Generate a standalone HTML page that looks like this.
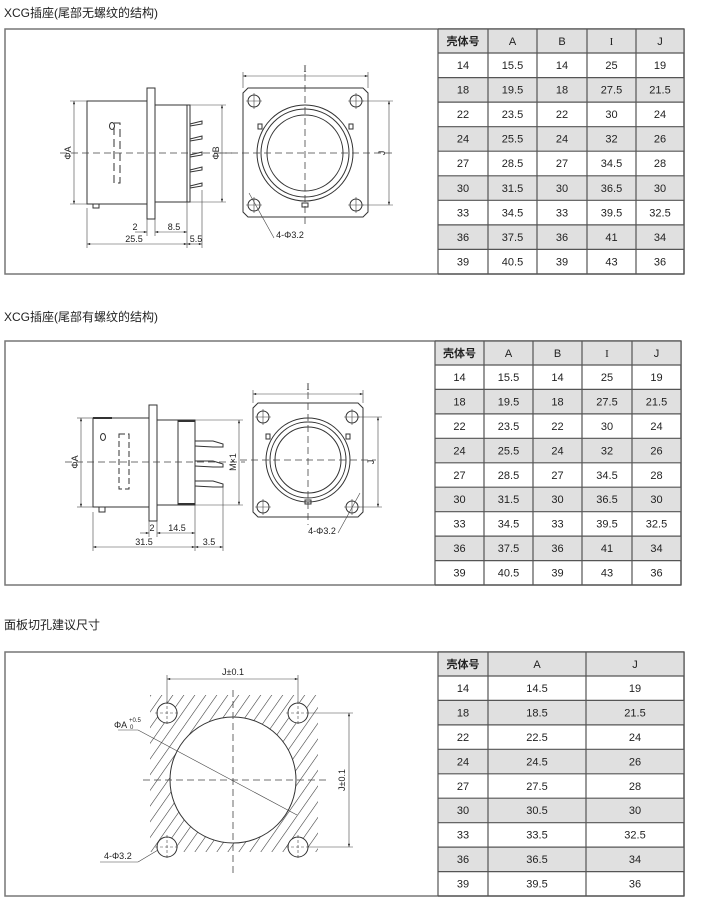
<!DOCTYPE html>
<html><head><meta charset="utf-8"><style>
html,body{margin:0;padding:0;background:#fff;}
svg{display:block;font-family:"Liberation Sans","Noto Sans CJK SC",sans-serif;}
.t{font-size:11px;fill:#222;text-anchor:middle;}
.ti{font-size:12px;fill:#222;}
.d{font-size:9px;fill:#222;text-anchor:middle;}
.ln{stroke:#333;stroke-width:1;fill:none;}
.th{stroke:#444;stroke-width:0.6;fill:none;}
.cl{stroke:#444;stroke-width:0.8;stroke-dasharray:7 4;fill:none;}
</style></head><body>
<svg width="720" height="900" viewBox="0 0 720 900" xmlns="http://www.w3.org/2000/svg">
<defs>
<marker id="a" viewBox="0 0 8 6" refX="8" refY="3" markerWidth="6" markerHeight="4" orient="auto-start-reverse"><path d="M0 0L8 3L0 6z" fill="#333"/></marker>
<pattern id="h" width="9" height="9" patternUnits="userSpaceOnUse" patternTransform="rotate(35)"><line x1="0" y1="0" x2="0" y2="9" stroke="#333" stroke-width="1.1"/></pattern>
</defs>

<text x="4" y="17" class="ti">XCG插座(尾部无螺纹的结构)</text>
<text x="4" y="321" class="ti">XCG插座(尾部有螺纹的结构)</text>
<text x="4" y="629" class="ti">面板切孔建议尺寸</text>

<rect x="5" y="29" width="679" height="245" fill="none" stroke="#777" stroke-width="1.5"/>
<rect x="5" y="341" width="676" height="244" fill="none" stroke="#777" stroke-width="1.5"/>
<rect x="5" y="652" width="679" height="244" fill="none" stroke="#777" stroke-width="1.5"/>

<!-- TABLE 1 -->
<g fill="#e0e0e0">
<rect x="438" y="29" width="246" height="24"/>
<rect x="438" y="77.6" width="246" height="24.5"/>
<rect x="438" y="126.7" width="246" height="24.5"/>
<rect x="438" y="175.8" width="246" height="24.5"/>
<rect x="438" y="224.9" width="246" height="24.5"/>
</g>
<g stroke="#555" stroke-width="1.2">
<line x1="438" y1="29" x2="438" y2="274"/><line x1="488" y1="29" x2="488" y2="274"/><line x1="537" y1="29" x2="537" y2="274"/><line x1="587" y1="29" x2="587" y2="274"/><line x1="636" y1="29" x2="636" y2="274"/><line x1="684" y1="29" x2="684" y2="274"/>
<line x1="438" y1="29" x2="684" y2="29"/><line x1="438" y1="53" x2="684" y2="53"/><line x1="438" y1="77.6" x2="684" y2="77.6"/><line x1="438" y1="102.1" x2="684" y2="102.1"/><line x1="438" y1="126.7" x2="684" y2="126.7"/><line x1="438" y1="151.2" x2="684" y2="151.2"/><line x1="438" y1="175.8" x2="684" y2="175.8"/><line x1="438" y1="200.3" x2="684" y2="200.3"/><line x1="438" y1="224.9" x2="684" y2="224.9"/><line x1="438" y1="249.4" x2="684" y2="249.4"/><line x1="438" y1="274" x2="684" y2="274"/>
</g>
<g class="t">
<text x="463" y="45" font-weight="bold">壳体号</text><text x="512.5" y="45">A</text><text x="562" y="45">B</text><text x="611.5" y="45" font-family="Liberation Serif">I</text><text x="660" y="45">J</text>
<text x="463" y="69">14</text><text x="512.5" y="69">15.5</text><text x="562" y="69">14</text><text x="611.5" y="69">25</text><text x="660" y="69">19</text>
<text x="463" y="93.6">18</text><text x="512.5" y="93.6">19.5</text><text x="562" y="93.6">18</text><text x="611.5" y="93.6">27.5</text><text x="660" y="93.6">21.5</text>
<text x="463" y="118.1">22</text><text x="512.5" y="118.1">23.5</text><text x="562" y="118.1">22</text><text x="611.5" y="118.1">30</text><text x="660" y="118.1">24</text>
<text x="463" y="142.7">24</text><text x="512.5" y="142.7">25.5</text><text x="562" y="142.7">24</text><text x="611.5" y="142.7">32</text><text x="660" y="142.7">26</text>
<text x="463" y="167.2">27</text><text x="512.5" y="167.2">28.5</text><text x="562" y="167.2">27</text><text x="611.5" y="167.2">34.5</text><text x="660" y="167.2">28</text>
<text x="463" y="191.8">30</text><text x="512.5" y="191.8">31.5</text><text x="562" y="191.8">30</text><text x="611.5" y="191.8">36.5</text><text x="660" y="191.8">30</text>
<text x="463" y="216.3">33</text><text x="512.5" y="216.3">34.5</text><text x="562" y="216.3">33</text><text x="611.5" y="216.3">39.5</text><text x="660" y="216.3">32.5</text>
<text x="463" y="240.9">36</text><text x="512.5" y="240.9">37.5</text><text x="562" y="240.9">36</text><text x="611.5" y="240.9">41</text><text x="660" y="240.9">34</text>
<text x="463" y="265.4">39</text><text x="512.5" y="265.4">40.5</text><text x="562" y="265.4">39</text><text x="611.5" y="265.4">43</text><text x="660" y="265.4">36</text>
</g>

<!-- TABLE 2 -->
<g fill="#e0e0e0">
<rect x="435" y="341" width="246" height="24"/>
<rect x="435" y="389.4" width="246" height="24.5"/>
<rect x="435" y="438.3" width="246" height="24.5"/>
<rect x="435" y="487.2" width="246" height="24.5"/>
<rect x="435" y="536.1" width="246" height="24.5"/>
</g>
<g stroke="#555" stroke-width="1.2">
<line x1="435" y1="341" x2="435" y2="585"/><line x1="484" y1="341" x2="484" y2="585"/><line x1="533" y1="341" x2="533" y2="585"/><line x1="582" y1="341" x2="582" y2="585"/><line x1="632" y1="341" x2="632" y2="585"/><line x1="681" y1="341" x2="681" y2="585"/>
<line x1="435" y1="341" x2="681" y2="341"/><line x1="435" y1="365" x2="681" y2="365"/><line x1="435" y1="389.4" x2="681" y2="389.4"/><line x1="435" y1="413.9" x2="681" y2="413.9"/><line x1="435" y1="438.3" x2="681" y2="438.3"/><line x1="435" y1="462.8" x2="681" y2="462.8"/><line x1="435" y1="487.2" x2="681" y2="487.2"/><line x1="435" y1="511.7" x2="681" y2="511.7"/><line x1="435" y1="536.1" x2="681" y2="536.1"/><line x1="435" y1="560.6" x2="681" y2="560.6"/><line x1="435" y1="585" x2="681" y2="585"/>
</g>
<g class="t">
<text x="459.5" y="357" font-weight="bold">壳体号</text><text x="508.5" y="357">A</text><text x="557.5" y="357">B</text><text x="607" y="357" font-family="Liberation Serif">I</text><text x="656.5" y="357">J</text>
<text x="459.5" y="381">14</text><text x="508.5" y="381">15.5</text><text x="557.5" y="381">14</text><text x="607" y="381">25</text><text x="656.5" y="381">19</text>
<text x="459.5" y="405.4">18</text><text x="508.5" y="405.4">19.5</text><text x="557.5" y="405.4">18</text><text x="607" y="405.4">27.5</text><text x="656.5" y="405.4">21.5</text>
<text x="459.5" y="429.9">22</text><text x="508.5" y="429.9">23.5</text><text x="557.5" y="429.9">22</text><text x="607" y="429.9">30</text><text x="656.5" y="429.9">24</text>
<text x="459.5" y="454.3">24</text><text x="508.5" y="454.3">25.5</text><text x="557.5" y="454.3">24</text><text x="607" y="454.3">32</text><text x="656.5" y="454.3">26</text>
<text x="459.5" y="478.8">27</text><text x="508.5" y="478.8">28.5</text><text x="557.5" y="478.8">27</text><text x="607" y="478.8">34.5</text><text x="656.5" y="478.8">28</text>
<text x="459.5" y="503.2">30</text><text x="508.5" y="503.2">31.5</text><text x="557.5" y="503.2">30</text><text x="607" y="503.2">36.5</text><text x="656.5" y="503.2">30</text>
<text x="459.5" y="527.7">33</text><text x="508.5" y="527.7">34.5</text><text x="557.5" y="527.7">33</text><text x="607" y="527.7">39.5</text><text x="656.5" y="527.7">32.5</text>
<text x="459.5" y="552.1">36</text><text x="508.5" y="552.1">37.5</text><text x="557.5" y="552.1">36</text><text x="607" y="552.1">41</text><text x="656.5" y="552.1">34</text>
<text x="459.5" y="576.6">39</text><text x="508.5" y="576.6">40.5</text><text x="557.5" y="576.6">39</text><text x="607" y="576.6">43</text><text x="656.5" y="576.6">36</text>
</g>

<!-- TABLE 3 -->
<g fill="#e0e0e0">
<rect x="438" y="652" width="246" height="24"/>
<rect x="438" y="700.4" width="246" height="24.5"/>
<rect x="438" y="749.3" width="246" height="24.5"/>
<rect x="438" y="798.2" width="246" height="24.5"/>
<rect x="438" y="847.1" width="246" height="24.5"/>
</g>
<g stroke="#555" stroke-width="1.2">
<line x1="438" y1="652" x2="438" y2="896"/><line x1="488" y1="652" x2="488" y2="896"/><line x1="586" y1="652" x2="586" y2="896"/><line x1="684" y1="652" x2="684" y2="896"/>
<line x1="438" y1="652" x2="684" y2="652"/><line x1="438" y1="676" x2="684" y2="676"/><line x1="438" y1="700.4" x2="684" y2="700.4"/><line x1="438" y1="724.9" x2="684" y2="724.9"/><line x1="438" y1="749.3" x2="684" y2="749.3"/><line x1="438" y1="773.8" x2="684" y2="773.8"/><line x1="438" y1="798.2" x2="684" y2="798.2"/><line x1="438" y1="822.7" x2="684" y2="822.7"/><line x1="438" y1="847.1" x2="684" y2="847.1"/><line x1="438" y1="871.6" x2="684" y2="871.6"/><line x1="438" y1="896" x2="684" y2="896"/>
</g>
<g class="t">
<text x="463" y="668" font-weight="bold">壳体号</text><text x="537" y="668">A</text><text x="635" y="668">J</text>
<text x="463" y="692">14</text><text x="537" y="692">14.5</text><text x="635" y="692">19</text>
<text x="463" y="716.4">18</text><text x="537" y="716.4">18.5</text><text x="635" y="716.4">21.5</text>
<text x="463" y="740.9">22</text><text x="537" y="740.9">22.5</text><text x="635" y="740.9">24</text>
<text x="463" y="765.3">24</text><text x="537" y="765.3">24.5</text><text x="635" y="765.3">26</text>
<text x="463" y="789.8">27</text><text x="537" y="789.8">27.5</text><text x="635" y="789.8">28</text>
<text x="463" y="814.2">30</text><text x="537" y="814.2">30.5</text><text x="635" y="814.2">30</text>
<text x="463" y="838.7">33</text><text x="537" y="838.7">33.5</text><text x="635" y="838.7">32.5</text>
<text x="463" y="863.1">36</text><text x="537" y="863.1">36.5</text><text x="635" y="863.1">34</text>
<text x="463" y="887.6">39</text><text x="537" y="887.6">39.5</text><text x="635" y="887.6">36</text>
</g>

<!-- DIAGRAM 1 side view -->
<g class="ln">
<rect x="87" y="101" width="60" height="103"/>
<rect x="147" y="88" width="8" height="131"/>
<rect x="155" y="105" width="32" height="97"/>
<rect x="187" y="105" width="3" height="97"/>
<rect x="93" y="204" width="6" height="4"/>
<path d="M190 124L202 121L202 124L190 126M190 139L202 136L202 139L190 141M190 155L202 152L202 155L190 157M190 170L202 167L202 170L190 172M190 186L202 183L202 186L190 188"/>
<ellipse cx="112" cy="126" rx="2.5" ry="3.5"/>
<rect x="114" y="123" width="6" height="60" stroke-dasharray="8 4"/>
</g>
<line class="cl" x1="60" y1="153" x2="236" y2="153"/>
<g class="th">
<line x1="70" y1="101" x2="87" y2="101"/><line x1="70" y1="204" x2="87" y2="204"/>
<line x1="74" y1="101" x2="74" y2="204" marker-start="url(#a)" marker-end="url(#a)"/>
<line x1="190" y1="105" x2="226" y2="105"/><line x1="190" y1="202" x2="226" y2="202"/>
<line x1="222" y1="105" x2="222" y2="202" marker-start="url(#a)" marker-end="url(#a)"/>
<line x1="87" y1="208" x2="87" y2="248"/><line x1="147" y1="219" x2="147" y2="236"/><line x1="155" y1="219" x2="155" y2="236"/><line x1="187" y1="202" x2="187" y2="248"/><line x1="202" y1="190" x2="202" y2="248"/>
<line x1="135" y1="232" x2="147" y2="232" marker-end="url(#a)"/><line x1="155" y1="232" x2="187" y2="232" marker-start="url(#a)" marker-end="url(#a)"/>
<line x1="87" y1="244" x2="187" y2="244" marker-start="url(#a)" marker-end="url(#a)"/><line x1="187" y1="244" x2="202" y2="244" marker-start="url(#a)" marker-end="url(#a)"/>
</g>
<text class="d" transform="translate(71,153) rotate(-90)">ΦA</text>
<text class="d" transform="translate(219,153) rotate(-90)">ΦB</text>
<text class="d" x="135" y="230">2</text><text class="d" x="174" y="230">8.5</text>
<text class="d" x="134" y="242">25.5</text><text class="d" x="196" y="242">5.5</text>

<!-- DIAGRAM 1 front view -->
<path class="ln" d="M248 88H363L368 93V212L363 217H248L243 212V93Z"/>
<g class="ln">
<circle cx="305" cy="153" r="48"/><circle cx="305" cy="153" r="44"/><circle cx="305" cy="153" r="38"/>
<circle cx="254" cy="101" r="6"/><circle cx="356" cy="101" r="6"/><circle cx="254" cy="205" r="6"/><circle cx="356" cy="205" r="6"/>
<rect x="302" y="203" width="6" height="4"/><rect x="258" y="124" width="4" height="5"/><rect x="349" y="124" width="4" height="5"/>
</g>
<g class="th">
<path d="M246 101H262M254 93V109M348 101H364M356 93V109M246 205H262M254 197V213M348 205H364M356 197V213"/>
<line x1="243" y1="88" x2="243" y2="72"/><line x1="368" y1="88" x2="368" y2="72"/>
<line x1="243" y1="76" x2="368" y2="76" marker-start="url(#a)" marker-end="url(#a)"/>
<line x1="362" y1="101" x2="393" y2="101"/><line x1="362" y1="205" x2="393" y2="205"/>
<line x1="389" y1="101" x2="389" y2="205" marker-start="url(#a)" marker-end="url(#a)"/>
<line x1="274" y1="238" x2="249" y2="193"/>
</g>
<line class="cl" x1="220" y1="153" x2="392" y2="153"/>
<line class="cl" x1="305" y1="74" x2="305" y2="225"/>
<text class="d" x="305" y="72" font-family="Liberation Serif" font-size="10">I</text>
<text class="d" transform="translate(385,153) rotate(-90)">J</text>
<text class="d" x="290" y="238">4-Φ3.2</text>

<!-- DIAGRAM 2 side view -->
<g class="ln">
<rect x="93" y="418" width="56" height="89"/>
<line x1="93" y1="418" x2="112" y2="418" stroke-width="2"/>
<rect x="149" y="405" width="8" height="116"/>
<rect x="157" y="420" width="21" height="85"/>
<rect x="178" y="420" width="17" height="85"/>
<line x1="178" y1="421" x2="195" y2="421" stroke-width="2"/><line x1="178" y1="504" x2="195" y2="504" stroke-width="2"/>
<rect x="99" y="507" width="6" height="5"/>
<path d="M195 441H213L223 444V447H213L195 446M195 461H213L223 464V467H213L195 466M195 481H213L223 484V487H213L195 486"/>
<ellipse cx="103" cy="437" rx="2.5" ry="3.5"/>
<rect x="119" y="434" width="10" height="55" stroke-dasharray="6 3"/>
</g>
<line class="cl" x1="65" y1="462" x2="245" y2="462"/>
<g class="th">
<line x1="77" y1="418" x2="93" y2="418"/><line x1="77" y1="507" x2="93" y2="507"/>
<line x1="81" y1="418" x2="81" y2="507" marker-start="url(#a)" marker-end="url(#a)"/>
<line x1="195" y1="420" x2="243" y2="420"/><line x1="195" y1="505" x2="243" y2="505"/>
<line x1="239" y1="420" x2="239" y2="505" marker-start="url(#a)" marker-end="url(#a)"/>
<line x1="93" y1="512" x2="93" y2="551"/><line x1="149" y1="521" x2="149" y2="537"/><line x1="157" y1="521" x2="157" y2="537"/><line x1="195" y1="505" x2="195" y2="551"/><line x1="223" y1="487" x2="223" y2="551"/>
<line x1="140" y1="533" x2="149" y2="533" marker-end="url(#a)"/><line x1="157" y1="533" x2="195" y2="533" marker-start="url(#a)" marker-end="url(#a)"/>
<line x1="93" y1="547" x2="195" y2="547" marker-start="url(#a)" marker-end="url(#a)"/><line x1="195" y1="547" x2="223" y2="547" marker-start="url(#a)" marker-end="url(#a)"/>
</g>
<text class="d" transform="translate(78,462) rotate(-90)">ΦA</text>
<text class="d" transform="translate(236,462) rotate(-90)">M×1</text>
<text class="d" x="152" y="531">2</text><text class="d" x="177" y="531">14.5</text>
<text class="d" x="144" y="545">31.5</text><text class="d" x="209" y="545">3.5</text>

<!-- DIAGRAM 2 front view -->
<path class="ln" d="M258 403H358L363 408V512L358 517H258L253 512V408Z"/>
<g class="ln">
<circle cx="308" cy="460" r="42"/><circle cx="308" cy="460" r="38"/><circle cx="308" cy="460" r="33"/>
<circle cx="263" cy="417" r="6"/><circle cx="352" cy="417" r="6"/><circle cx="263" cy="507" r="6"/><circle cx="352" cy="507" r="6"/>
<rect x="305" y="500" width="6" height="4"/><rect x="266" y="434" width="4" height="5"/><rect x="346" y="434" width="4" height="5"/>
</g>
<g class="th">
<path d="M255 417H271M263 409V425M344 417H360M352 409V425M255 507H271M263 499V515M344 507H360M352 499V515"/>
<line x1="253" y1="403" x2="253" y2="390"/><line x1="363" y1="403" x2="363" y2="390"/>
<line x1="253" y1="394" x2="363" y2="394" marker-start="url(#a)" marker-end="url(#a)"/>
<line x1="358" y1="417" x2="382" y2="417"/><line x1="358" y1="507" x2="382" y2="507"/>
<line x1="378" y1="417" x2="378" y2="507" marker-start="url(#a)" marker-end="url(#a)"/>
<line x1="360" y1="493" x2="338" y2="533"/>
</g>
<line class="cl" x1="240" y1="460" x2="376" y2="460"/>
<line class="cl" x1="308" y1="392" x2="308" y2="525"/>
<text class="d" x="308" y="390" font-family="Liberation Serif" font-size="10">I</text>
<text class="d" transform="translate(374,462) rotate(-90)">J</text>
<text class="d" x="322" y="534">4-Φ3.2</text>

<!-- DIAGRAM 3 -->
<rect x="150" y="695" width="168" height="157" fill="url(#h)"/>
<circle cx="233" cy="780" r="63" fill="#fff" stroke="#333" stroke-width="1"/>
<g fill="#fff" stroke="#333" stroke-width="1">
<circle cx="167" cy="713" r="10"/><circle cx="298" cy="713" r="10"/><circle cx="167" cy="847" r="10"/><circle cx="298" cy="847" r="10"/>
</g>
<g class="th" stroke-dasharray="3 2">
<path d="M155 713H179M167 701V725M286 713H310M298 701V725M155 847H179M167 835V859M286 847H310M298 835V859"/>
</g>
<line class="cl" x1="143" y1="780" x2="326" y2="780"/>
<line class="cl" x1="233" y1="690" x2="233" y2="875"/>
<g class="th">
<line x1="167" y1="703" x2="167" y2="675"/><line x1="298" y1="703" x2="298" y2="675"/>
<line x1="167" y1="679" x2="298" y2="679" marker-start="url(#a)" marker-end="url(#a)"/>
<line x1="308" y1="713" x2="353" y2="713"/><line x1="308" y1="847" x2="353" y2="847"/>
<line x1="349" y1="713" x2="349" y2="847" marker-start="url(#a)" marker-end="url(#a)"/>
<line x1="118" y1="730" x2="138" y2="730"/><line x1="138" y1="730" x2="297" y2="815"/>
<line x1="100" y1="862" x2="138" y2="862"/><line x1="138" y1="862" x2="158" y2="850"/>
</g>
<text class="d" x="233" y="675">J±0.1</text>
<text class="d" transform="translate(345,780) rotate(-90)">J±0.1</text>
<text x="114" y="728" font-size="9" fill="#222">ΦA</text>
<text x="129" y="722" font-size="6" fill="#222">+0.5</text>
<text x="130" y="729" font-size="6" fill="#222">0</text>
<text x="104" y="859" font-size="9" fill="#222">4-Φ3.2</text>
</svg>
</body></html>
